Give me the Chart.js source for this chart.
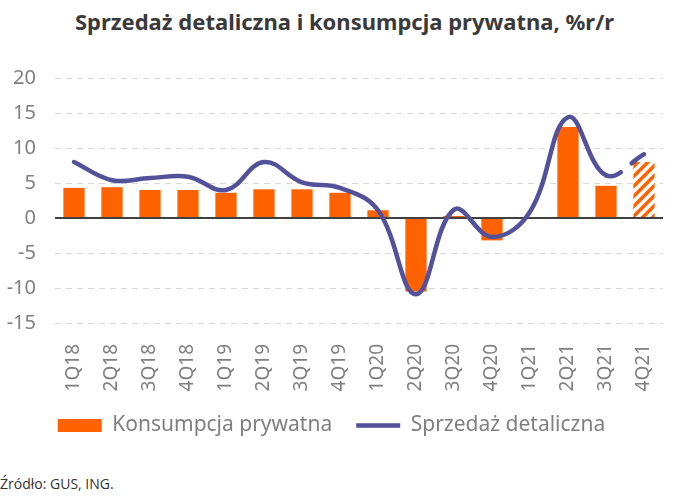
<!DOCTYPE html>
<html>
<head>
<meta charset="utf-8">
<script src="https://cdn.jsdelivr.net/npm/chart.js@4"></script>
<style>
  body { margin: 0; background: #fff; width: 689px; height: 500px; position: relative; overflow: hidden; font-family: "Noto Sans", sans-serif; }
  #title { position: absolute; top: 6px; left: 0; width: 689px; text-align: center; font-size: 22px; font-weight: bold; color: #3a3a3a; }
  #wrap { position: absolute; left: 0; top: 60px; width: 689px; height: 386px; }
  #source { position: absolute; left: 0; top: 474px; font-size: 14px; color: #333; font-family: "Open Sans", sans-serif; }
</style>
</head>
<body>
<div id="title">Sprzedaż detaliczna i konsumpcja prywatna, %r/r</div>
<div id="wrap"><canvas id="chart"></canvas></div>
<div id="source">Źródło: GUS, ING.</div>
<script>
document.addEventListener('DOMContentLoaded', () => {

  const quarters = ["1Q18", "2Q18", "3Q18", "4Q18", "1Q19", "2Q19", "3Q19", "4Q19",
                    "1Q20", "2Q20", "3Q20", "4Q20", "1Q21", "2Q21", "3Q21", "4Q21"];
  const consumption = [4.3, 4.4, 4.0, 4.0, 3.6, 4.1, 4.1, 3.6, 1.1, -10.5, 0.3, -3.2, 0, 13.0, 4.6, 8.0];
  const retailSales = [8.0, 5.4, 5.7, 5.9, 4.0, 8.0, 5.1, 4.3, 1.1, -10.9, 1.2, -2.7, 0.9, 14.4, 6.1, 9.1];
  const yTicks = [-15, -10, -5, 0, 5, 10, 15, 20];

  const orange = "#FF6200";
  const purple = "#525199";

  // hatch pattern for the forecast bar
  const pc = document.createElement("canvas");
  pc.width = 10; pc.height = 10;
  const p = pc.getContext("2d");
  p.fillStyle = "#fff";
  p.fillRect(0, 0, 10, 10);
  p.strokeStyle = orange;
  p.lineWidth = 3.5;
  p.beginPath();
  p.moveTo(-5, 5); p.lineTo(5, -5);
  p.moveTo(0, 10); p.lineTo(10, 0);
  p.moveTo(5, 15); p.lineTo(15, 5);
  p.stroke();
  const hatch = document.createElement("canvas").getContext("2d").createPattern(pc, "repeat");

  const barColors = consumption.map((v, i) => i === consumption.length - 1 ? hatch : orange);

  const ctx = document.getElementById("chart").getContext("2d");

  new Chart(ctx, {
    data: {
      labels: quarters,
      datasets: [{
        type: "line",
        label: "Sprzedaż detaliczna",
        data: retailSales,
        borderColor: purple,
        backgroundColor: purple,
        borderWidth: 4.5,
        tension: 0.4,
        pointRadius: 0,
        borderCapStyle: "round",
        segment: {
          borderDash: c => c.p1DataIndex === retailSales.length - 1 ? [16, 14] : undefined
        },
        order: 0
      }, {
        type: "bar",
        label: "Konsumpcja prywatna",
        data: consumption,
        backgroundColor: barColors,
        barPercentage: 0.56,
        categoryPercentage: 1,
        order: 1
      }]
    },
    options: {
      responsive: true,
      maintainAspectRatio: false,
      animation: false,
      layout: { padding: { left: 0, right: 26, top: 18, bottom: 0 } },
      scales: {
        x: {
          grid: { display: false },
          border: { display: false },
          ticks: {
            color: "#7f7f7f",
            font: { size: 19, family: "Noto Sans" },
            maxRotation: 90,
            minRotation: 90,
            padding: 13
          },
          afterFit: s => { s.height = 68; }
        },
        y: {
          min: -15,
          max: 20,
          afterBuildTicks: s => { s.ticks = yTicks.map(v => ({ value: v })); },
          afterFit: s => { s.width = 55; },
          border: { display: false },
          grid: {
            color: c => c.tick.value === 0 ? "#404040" : "rgba(0,0,0,0)",
            lineWidth: c => c.tick.value === 0 ? 2 : 1,
            drawTicks: true,
            tickLength: 17,
            tickColor: "rgba(0,0,0,0)"
          },
          ticks: {
            color: "#7f7f7f",
            font: { size: 20, family: "Noto Sans" },
            padding: 2
          }
        }
      },
      plugins: {
        legend: {
          position: "bottom",
          reverse: true,
          labels: {
            color: "#7f7f7f",
            font: { size: 21, family: "Noto Sans" },
            usePointStyle: true,
            pointStyleWidth: 44,
            boxHeight: 13,
            padding: 24,
            generateLabels: chart => chart.data.datasets.map((d, i) => ({
              text: d.label,
              datasetIndex: i,
              fillStyle: d.type === "bar" ? orange : purple,
              strokeStyle: d.type === "bar" ? orange : purple,
              lineWidth: d.type === "bar" ? 0 : 4.5,
              pointStyle: d.type === "bar" ? "rect" : "line",
              fontColor: "#7f7f7f"
            }))
          }
        },
        tooltip: { enabled: false }
      }
    },
    plugins: [{
      id: "dashGrid",
      beforeDraw(chart) {
        const y = chart.scales.y;
        const a = chart.chartArea;
        const c = chart.ctx;
        c.save();
        c.strokeStyle = "#d9d9d9";
        c.lineWidth = 1;
        c.setLineDash([6, 5]);
        yTicks.forEach(v => {
          if (v === 0) return;
          const py = Math.round(y.getPixelForValue(v)) + 0.5;
          c.beginPath();
          c.moveTo(a.left, py);
          c.lineTo(a.right, py);
          c.stroke();
        });
        c.restore();
      }
    }]
  });
});
</script>
</body>
</html>
